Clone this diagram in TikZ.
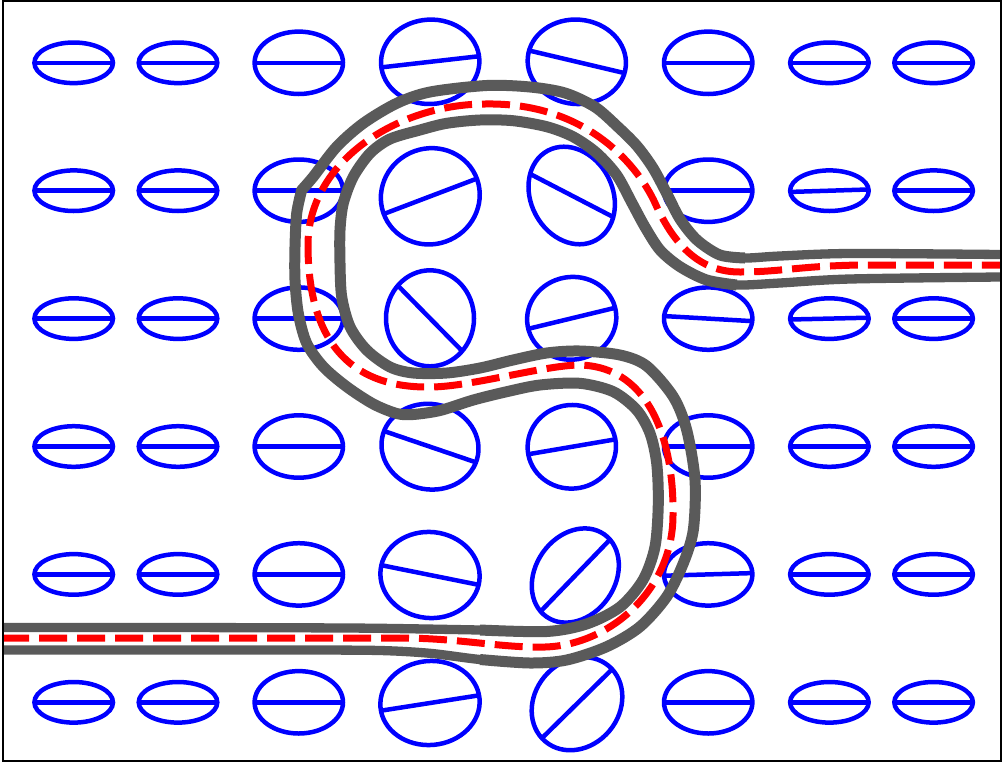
\documentclass[tikz,border=0pt]{standalone}
\definecolor{bandgray}{RGB}{90,90,90}
\tikzset{
  blueline/.style={draw=blue, line width=4.5pt},
  grayline/.style={draw=bandgray, line width=9.3pt, line join=round},
  graythick/.style={draw=bandgray, line width=11pt, line join=round},
  redpath/.style={insert path={(4,638) -- (400,638)
    .. controls (460,638) and (500,648) .. (545,647)
    .. controls (610,645) and (673,590) .. (673,515)
    .. controls (674,445) and (652,367) .. (580,365)
    .. controls (545,365) and (470,387) .. (430,387)
    .. controls (358,388) and (308,350) .. (308,245)
    .. controls (308,160) and (400,104) .. (485,104)
    .. controls (590,102) and (640,170) .. (655,203)
    .. controls (677,252) and (705,272) .. (740,272)
    .. controls (780,272) and (800,266) .. (860,265) -- (1000,265)}},
}
% #1 x, #2 y, #3 semi-axis a, #4 semi-axis b, #5 ellipse rotation, #6 line angle
\newcommand\mycell[6]{%
  \begin{scope}[shift={(#1,#2)}]
    \begin{scope}[rotate=#5]
      \clip (0,0) ellipse [x radius=#3pt, y radius=#4pt];
      \draw[blueline] ({#6-#5}:80pt) -- ({#6-#5+180}:80pt);
    \end{scope}
    \draw[blueline, rotate=#5] (0,0) ellipse [x radius=#3pt, y radius=#4pt];
  \end{scope}}
\newcommand\smallcell[3]{\mycell{#1}{#2}{39.3}{20.3}{0}{#3}}
\newcommand\midcell[3]{\mycell{#1}{#2}{44.2}{31.2}{0}{#3}}

\begin{document}
\begin{tikzpicture}[x=1pt,y=-1pt]
\useasboundingbox (0,0) rectangle (1006,766);
\fill[white] (0,0) rectangle (1006,766);
% outer columns
\foreach \yy in {62.8,190.7,318.6,446.5,574.4,702.3}{
  \smallcell{73.7}{\yy}{0}
  \smallcell{178}{\yy}{0}
  \smallcell{933.6}{\yy}{0}
}
\smallcell{829.4}{62.8}{0}
\smallcell{829.4}{190.7}{1.8}
\smallcell{829.4}{318.6}{1.3}
\smallcell{829.4}{446.5}{0}
\smallcell{829.4}{574.4}{0}
\smallcell{829.4}{702.3}{0}
% medium columns
\foreach \yy in {62.8,190.7,318.6,446.5,574.4,702.3}{
  \midcell{298.8}{\yy}{0}
}
\midcell{708.2}{62.8}{0}
\midcell{708.2}{190.7}{0}
\midcell{708.2}{318.6}{-3.3}
\midcell{708.2}{446.5}{0}
\midcell{708.2}{574.4}{1.7}
\midcell{708.2}{702.3}{0}
% central columns
\mycell{430.2}{61.8}{49.2}{42.2}{3}{6.5}
\mycell{576.8}{61.8}{49.2}{42.2}{-5}{-13.3}
\mycell{430.3}{196.3}{49.8}{47.8}{25}{20.8}
\mycell{571.7}{195.5}{50.8}{40.8}{118}{-27.4}
\mycell{430}{318.3}{44}{48}{0}{-45.5}
\mycell{571.7}{318.3}{44.7}{41.3}{10}{13.6}
\mycell{430}{446.7}{48.7}{42.7}{-10}{-18.8}
\mycell{571.8}{446.8}{44.2}{41.8}{5}{9.7}
\mycell{430}{575}{49.7}{43}{-6}{-11.4}
\mycell{575.3}{575.5}{50.3}{39.8}{55}{46}
\mycell{430}{703}{49.7}{42}{5}{8.9}
\mycell{577}{703.7}{49.3}{42.3}{50}{44.5}
% gray line B (upper-left straight, inner lower lobe, outer upper lobe, upper right straight)
\draw[grayline] plot[smooth, tension=0.5] coordinates {(3,627.5) (150,627.5) (300,627.8) (380,628.3) (480,630) (546.7,631.5) (586.5,624) (620,607) (643,580) (655,546.7) (658.3,503.3) (656.7,463.3) (650,433.3) (636.7,410) (613.3,391.7) (580,383.3) (540,385) (506.7,391.7) (473.3,400) (440,410.5) (413,414.5) (396.7,413.5) (373.3,404) (346.7,386.7) (323.3,366.7) (306.7,343.3) (298.3,313.3) (295,280) (295,246.7) (296.7,213.3) (301.7,190)}
  --plot[smooth, tension=0.5] coordinates {(301.7,190) (313.3,176.7) (336.7,146.7) (363.3,123.3) (396.7,103.3) (430,92) (486.7,85.5) (530,87) (565,93) (595,107) (618,127) (637,146) (653,168) (667,194) (680,219) (697,240) (720,255) (745,258) (780,256) (850,253.5) (1000,254.5)};
\draw[graythick] plot[smooth, tension=0.5] coordinates {(480,630) (546.7,631.5) (586.5,624) (620,607) (643,580) (655,546.7) (658.3,503.3) (656.7,463.3) (650,433.3) (636.7,410) (613.3,391.7) (580,383.3) (540,385) (506.7,391.7) (473.3,400) (440,410.5) (413,414.5) (396.7,413.5) (373.3,404) (346.7,386.7) (323.3,366.7) (306.7,343.3) (298.3,313.3) (295,280) (295,246.7) (296.7,213.3) (301.7,190)}
  --plot[smooth, tension=0.5] coordinates {(301.7,190) (313.3,176.7) (336.7,146.7) (363.3,123.3) (396.7,103.3) (430,92) (486.7,85.5) (530,87) (565,93) (595,107) (618,127) (637,146) (653,168) (667,194) (680,219) (697,240) (720,255) (745,258)};
% gray line A (lower-left straight, outer lower lobe, inner upper lobe, lower right straight)
\draw[grayline] plot[smooth, tension=0.5] coordinates {(3,650) (150,650) (300,650) (380,650.5) (430,653.3) (480,659.5) (530,663) (566.7,660) (606.7,646.7) (640,626.7) (666.7,596.7) (683.3,563.3) (693.3,530) (695,480) (686.7,430) (673.3,396.7) (646.7,366) (620,355) (580,351) (546.7,353) (513,360) (480,368) (446.7,373) (413.3,373) (390,367) (366.7,350) (350,326.7) (341.7,296.7) (340,263.3) (340,230) (343.3,203.3) (353.3,176.7) (370,153.3) (390,139) (420,130) (446.7,123.3) (480,120) (513,120.7) (546.7,126.7) (573,136.7) (596.7,153) (616.7,175) (632,203) (645,227) (660,250) (680,266.7) (706.7,280) (736.7,285) (780,283) (850,279) (1000,277)};
\draw[graythick] plot[smooth, tension=0.5] coordinates {(480,659.5) (530,663) (566.7,660) (606.7,646.7) (640,626.7) (666.7,596.7) (683.3,563.3) (693.3,530) (695,480) (686.7,430) (673.3,396.7) (646.7,366) (620,355) (580,351) (546.7,353) (513,360) (480,368) (446.7,373) (413.3,373) (390,367) (366.7,350) (350,326.7) (341.7,296.7) (340,263.3) (340,230) (343.3,203.3) (353.3,176.7) (370,153.3) (390,139) (420,130) (446.7,123.3) (480,120) (513,120.7) (546.7,126.7) (573,136.7) (596.7,153) (616.7,175) (632,203) (645,227) (660,250) (680,266.7) (706.7,280) (736.7,285)};
% red dashed centre line
\draw[red, line width=7pt, dash pattern=on 28pt off 10pt, dash phase=3pt, redpath];
% frame
\draw[black, line width=2.3pt] (2.8,1) rectangle (1001,761.3);
\end{tikzpicture}
\end{document}
